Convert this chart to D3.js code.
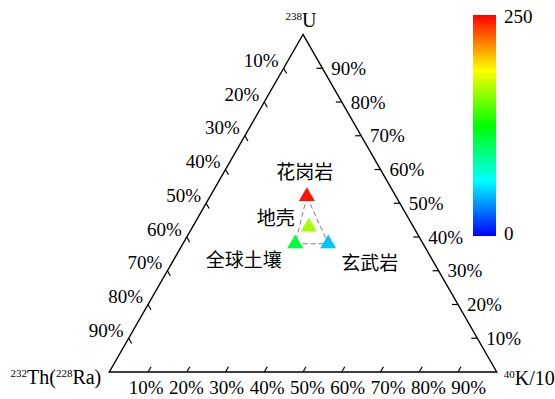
<!DOCTYPE html>
<html>
<head>
<meta charset="utf-8">
<script src="https://cdn.jsdelivr.net/npm/d3@7"></script>
<style>
  html, body { margin: 0; padding: 0; background: #fff; }
  svg { display: block; }
  .serif { font-family: "Liberation Serif", "Times New Roman", serif; fill: #000; }
  .cjk { font-family: "Noto Sans CJK SC", sans-serif; fill: #000; }
</style>
</head>
<body>
<svg id="chart" width="555" height="399"></svg>
<script>
// Sample groups and their relative shares (%) of 238U, 232Th(228Ra) and 40K/10
const rockNames = ["花岗岩", "地壳", "全球土壤", "玄武岩"];
const u238 = [52, 43, 38, 38];
const th232 = [23, 27, 33, 24.5];
const k40 = [25, 30, 29, 37.5];
// Colour value of each group (colour bar 0 - 250)
const colorValues = [245, 165, 110, 48];

// Axis tick values (fractions) and colour bar ticks
const axisTicks = [0.1, 0.2, 0.3, 0.4, 0.5, 0.6, 0.7, 0.8, 0.9];
const colorTicks = [0, 250];
const colorDomain = [0, 250];

const svg = d3.select("#chart");

// Ternary frame: x runs along the base (K share + half of U share), y by U share
const xs = d3.scaleLinear().domain([0, 1]).range([109.3, 496.7]);
const ys = d3.scaleLinear().domain([0, 1]).range([372, 34.5]);
const proj = (u, k) => [xs(k + u / 2), ys(u)];

// Rainbow colour scale: blue (0) -> cyan -> green -> yellow -> red (250)
const rainbow = t => d3.hsl(240 * (1 - t), 1, 0.5).formatHex();
const color = d3.scaleSequential(rainbow).domain(colorDomain);

// Triangle outline
const apexU = proj(1, 0), cornerTh = proj(0, 0), cornerK = proj(0, 1);
svg.append("path")
  .attr("d", d3.line()([apexU, cornerTh, cornerK, apexU]) + "Z")
  .attr("fill", "none")
  .attr("stroke", "#000")
  .attr("stroke-width", 1.4)
  .attr("stroke-linejoin", "miter");

const tickLen = 6;
const ticks = svg.append("g").attr("stroke", "#000").attr("stroke-width", 1.2);
const labels = svg.append("g").attr("class", "serif").style("font-size", "19px");

// Left side: 232Th share (10% at the top, 90% near the Th corner)
axisTicks.forEach(t => {
  const [x, y] = proj(1 - t, 0);
  ticks.append("line").attr("x1", x).attr("y1", y)
    .attr("x2", x + tickLen * 0.5).attr("y2", y + tickLen * 0.866);
  labels.append("text").attr("x", x - 5).attr("y", y - 1.5)
    .attr("text-anchor", "end").text(Math.round(t * 100) + "%");
});

// Right side: 238U share (90% near the apex)
axisTicks.forEach(t => {
  const [x, y] = proj(t, 1 - t);
  ticks.append("line").attr("x1", x).attr("y1", y)
    .attr("x2", x - tickLen).attr("y2", y);
  labels.append("text").attr("x", x + 9).attr("y", y + 6.5)
    .attr("text-anchor", "start").text(Math.round(t * 100) + "%");
});

// Base: 40K/10 share (10% near the Th corner)
axisTicks.forEach(t => {
  const [x, y] = proj(0, t);
  ticks.append("line").attr("x1", x).attr("y1", y)
    .attr("x2", x + tickLen * 0.5).attr("y2", y - tickLen * 0.866);
  labels.append("text").attr("x", x - 2 + (t - 0.1) * 16).attr("y", y + 21.5)
    .attr("text-anchor", "middle").text(Math.round(t * 100) + "%");
});

// Corner titles with superscript mass numbers
function isotopeLabel(parts, x, y, anchor) {
  const txt = svg.append("text").attr("class", "serif")
    .attr("x", x).attr("y", y).attr("text-anchor", anchor);
  parts.forEach(([s, sup]) => {
    txt.append("tspan")
      .style("font-size", sup ? "11px" : "20px")
      .attr("dy", sup ? -7 : 7)
      .text(s);
  });
  return txt;
}
// first tspan dy handled by shifting start baseline
isotopeLabel([["238", true], ["U", false]], apexU[0] - 2, cornerTh[1] - 345, "middle");
isotopeLabel([["232", true], ["Th(", false], ["228", true], ["Ra)", false]], cornerTh[0] - 8, cornerTh[1] + 12, "end");
isotopeLabel([["40", true], ["K/10", false]], cornerK[0] + 7, cornerK[1] + 13, "start");

// Sample points
const pts = rockNames.map((name, i) => ({
  name, value: colorValues[i], p: proj(u238[i] / 100, k40[i] / 100)
}));

// Dashed outline joining granite, global soil and basalt
const outline = [pts[0].p, pts[2].p, pts[3].p];
svg.append("path")
  .attr("d", d3.line()(outline) + "Z")
  .attr("fill", "none")
  .attr("stroke", "#7f7f7f")
  .attr("stroke-width", 1)
  .attr("stroke-dasharray", "5,3");

const tri = d3.symbol().type(d3.symbolTriangle).size(111);
svg.append("g").selectAll("path").data(pts).join("path")
  .attr("d", tri)
  .attr("transform", d => `translate(${d.p[0]},${d.p[1]})`)
  .attr("fill", d => color(d.value));

// Group names
const nameOffsets = [[-2, -17.5], [-33, -1.5], [-51.5, 23], [41.5, 26.5]];
svg.append("g").attr("class", "cjk").style("font-size", "19px")
  .selectAll("text").data(pts).join("text")
  .attr("x", (d, i) => d.p[0] + nameOffsets[i][0])
  .attr("y", (d, i) => d.p[1] + nameOffsets[i][1])
  .attr("text-anchor", "middle")
  .text(d => d.name);

// Colour bar
const barX = 473, barW = 23;
const cy = d3.scaleLinear().domain(colorDomain).range([236, 15]);
const defs = svg.append("defs");
const grad = defs.append("linearGradient").attr("id", "rainbowGrad")
  .attr("x1", 0).attr("y1", 1).attr("x2", 0).attr("y2", 0);
d3.range(0, 1.0001, 0.05).forEach(t => {
  grad.append("stop").attr("offset", t).attr("stop-color", rainbow(t));
});
svg.append("rect")
  .attr("x", barX).attr("y", cy(colorDomain[1]))
  .attr("width", barW).attr("height", cy(colorDomain[0]) - cy(colorDomain[1]))
  .attr("fill", "url(#rainbowGrad)");
svg.append("g").attr("class", "serif").style("font-size", "19px")
  .selectAll("text").data(colorTicks).join("text")
  .attr("x", barX + barW + 8)
  .attr("y", d => cy(d) + (d === 0 ? 4 : 8))
  .text(d => d);
</script>
</body>
</html>
